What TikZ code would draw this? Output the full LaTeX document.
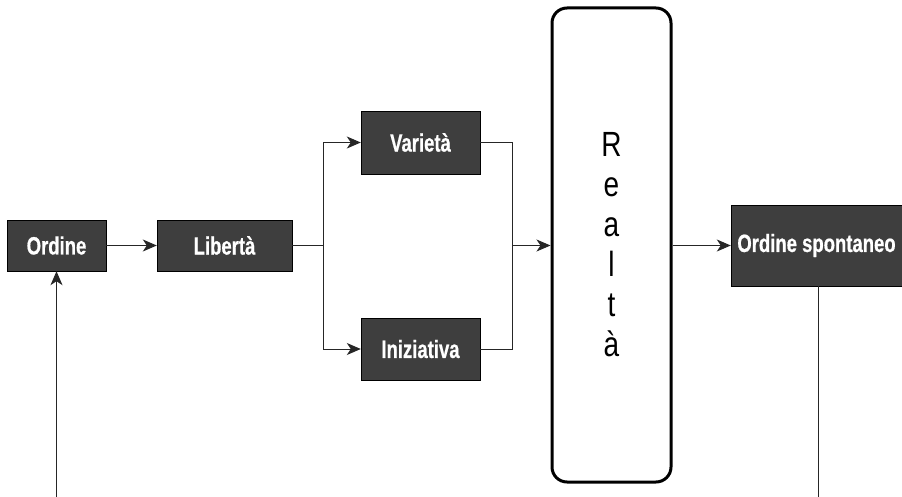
\documentclass[tikz,border=0pt]{standalone}
\usepackage{fontspec}
\newfontfamily\BoxFont[FakeStretch=0.74,BoldFeatures={FakeBold=0.6}]{Liberation Sans}
\newfontfamily\TallFont[FakeStretch=0.8]{Liberation Sans}
\usepackage{xcolor}
\definecolor{Col1}{RGB}{62,62,62}
\usepackage{tikz}
\usetikzlibrary{arrows.meta}
\tikzstyle{Box}=[rectangle,draw=black,fill=Col1,text=white,inner sep=0pt,
font=\BoxFont\bfseries\fontsize{25}{28}\selectfont]
\tikzstyle{Tall}=[rectangle,draw=black,line width=3pt,rounded corners=15pt,
minimum width=119pt,minimum height=474pt,align=center,inner sep=0pt,
font=\TallFont\fontsize{35}{40}\selectfont]
\tikzstyle{Edge}=[draw=black!85,line width=1pt]
\tikzstyle{Arrow}=[Edge,-{Stealth[length=14pt,width=12pt,inset=4pt]}]

\begin{document}
\begin{tikzpicture}[x=1pt,y=-1pt]
        \useasboundingbox (0,0) rectangle (902,497);
        \node[Box,minimum width=99pt,minimum height=51pt](O)at(56.5,245.5){Ordine};
        \node[Box,minimum width=135pt,minimum height=51pt](L)at(224.5,245.5){Libertà};
        \node[Box,minimum width=119pt,minimum height=63pt](V)at(420.5,142.5){Varietà};
        \node[Box,minimum width=119pt,minimum height=62pt](I)at(420.5,349){Iniziativa};
        \node[Tall](R)at(611.5,245){R\\e\\a\\l\\t\\à};
        \node[Box,minimum width=171pt,minimum height=81pt](S)at(816.5,245.5){Ordine spontaneo};
        \coordinate(jl)at(323,245.5);
        \coordinate(jr)at(512,245.5);
        \coordinate(bl)at(56.5,497);
        \coordinate(br)at(818,497);
        \draw[Arrow](O)--(L);
        \draw[Edge](L.east)--(jl);
        \draw[Arrow](jl)|-(V.west);
        \draw[Arrow](jl)|-(I.west);
        \draw[Edge](V.east)-|(jr);
        \draw[Edge](I.east)-|(jr);
        \draw[Arrow](jr)--(R.west|-jr);
        \draw[Arrow](R.east|-S)--(S.west);
        \draw[Edge](S.south-|br)--(br);
        \draw[Arrow](bl)--(O.south);
    \end{tikzpicture}
\end{document}
